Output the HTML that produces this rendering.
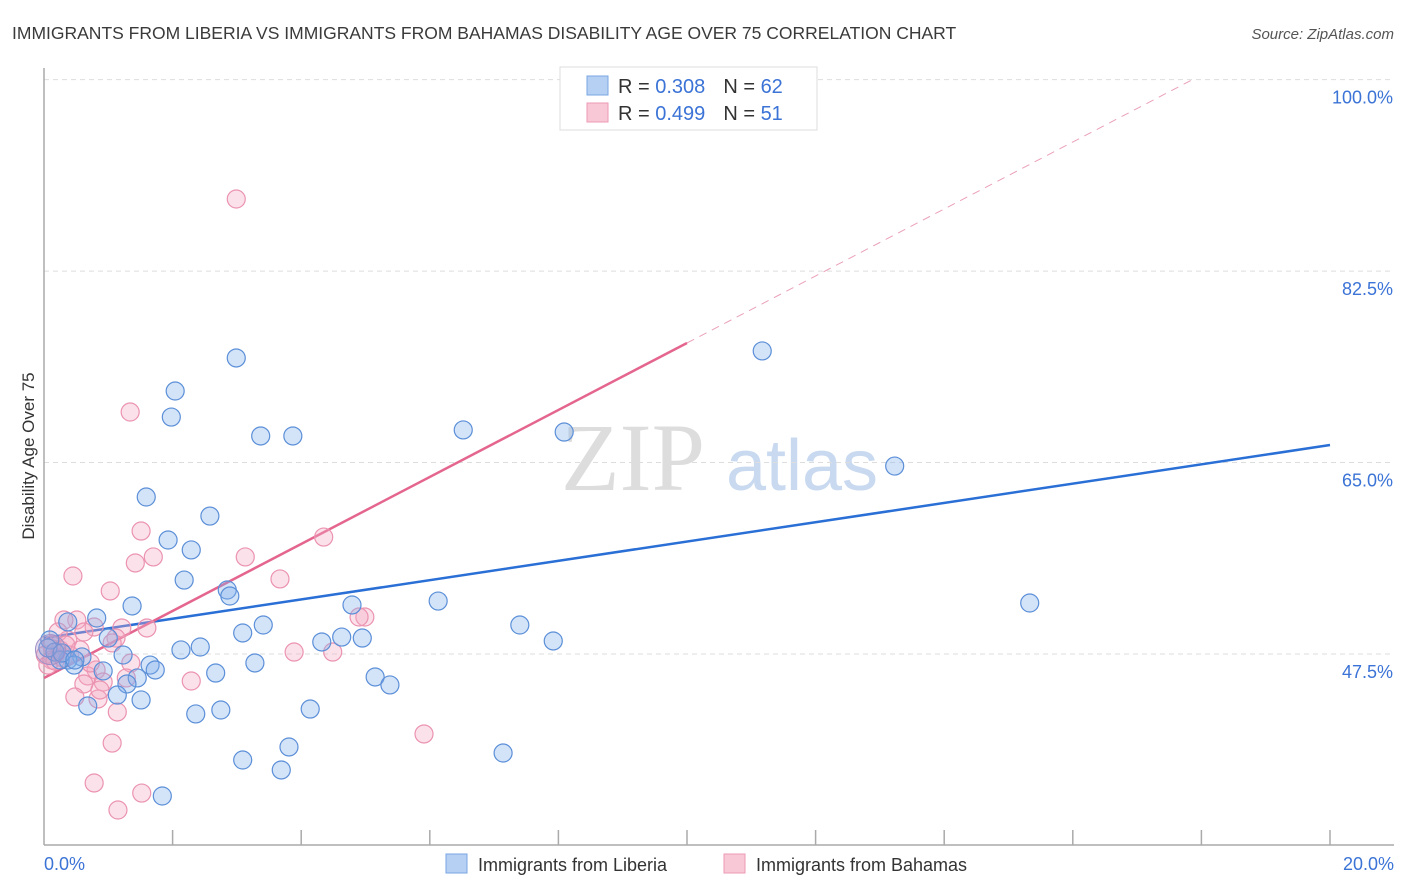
<!DOCTYPE html>
<html><head><meta charset="utf-8"><style>
body{margin:0;background:#fff;font-family:"Liberation Sans",sans-serif;}
#wrap{position:relative;width:1406px;height:892px;overflow:hidden;}
</style></head><body>
<div id="wrap">
<svg id="svg" width="1406" height="892" xmlns="http://www.w3.org/2000/svg">
<text x="12" y="39" font-size="17.5" fill="#3a3a3a">IMMIGRANTS FROM LIBERIA VS IMMIGRANTS FROM BAHAMAS DISABILITY AGE OVER 75 CORRELATION CHART</text>
<text x="1394" y="39" font-size="15" fill="#555" font-style="italic" text-anchor="end">Source: ZipAtlas.com</text>
<text x="0" y="0" transform="translate(34,456) rotate(-90)" font-size="17" fill="#333" text-anchor="middle">Disability Age Over 75</text>
<g>
<text x="633" y="490" font-size="96" font-family="Liberation Serif,serif" fill="#ddd" text-anchor="middle">ZIP</text>
<text x="802" y="490" font-size="72" fill="#c8d9f0" text-anchor="middle">atlas</text>
</g>
<g id="grid"></g><g id="axes"></g><g id="lines"></g><g id="pts"></g>
<g>
<rect x="560" y="67" width="257" height="63" fill="#fff" stroke="#ddd"/>
<rect x="587" y="76" width="21" height="19" fill="#b5d0f3" stroke="#7aa6e3"/>
<rect x="587" y="103" width="21" height="19" fill="#f8c8d6" stroke="#ee9ab4"/>
<text x="618" y="93" font-size="20" fill="#333">R = <tspan fill="#3b73d6">0.308</tspan><tspan dx="18">N = </tspan><tspan fill="#3b73d6">62</tspan></text>
<text x="618" y="120" font-size="20" fill="#333">R = <tspan fill="#3b73d6">0.499</tspan><tspan dx="18">N = </tspan><tspan fill="#3b73d6"> 51</tspan></text>
</g>
<g>
<rect x="446" y="854" width="21" height="19" fill="#b5d0f3" stroke="#7aa6e3"/>
<text x="478" y="871" font-size="18" fill="#333">Immigrants from Liberia</text>
<rect x="724" y="854" width="21" height="19" fill="#f8c8d6" stroke="#ee9ab4"/>
<text x="756" y="871" font-size="18" fill="#333">Immigrants from Bahamas</text>
</g>
</svg>
</div>
<script>
const blueX=[2.99,2.04,1.98,3.37,3.87,6.52,8.09,11.17,13.23,15.33,1.59,2.58,1.93,2.29,2.18,2.85,2.89,1.37,0.82,0.37,4.79,6.13,7.40,7.92,3.41,3.09,4.32,4.63,4.95,2.43,2.13,1.00,1.23,0.59,0.37,0.47,0.92,1.65,1.73,1.45,1.29,1.14,1.51,0.68,2.67,3.28,2.36,2.75,4.14,5.15,5.38,3.09,3.69,3.81,7.14,1.84,0.09,0.17,0.25,0.06,0.28,0.48];
const blueY=[74.56,71.54,69.16,67.43,67.43,67.98,67.79,75.20,64.68,52.16,61.85,60.11,57.92,57.01,54.26,53.35,52.80,51.89,50.79,50.43,51.98,52.34,50.15,48.69,50.15,49.42,48.60,49.05,48.96,48.14,47.87,48.96,47.41,47.23,46.95,46.49,45.95,46.49,46.04,45.31,44.76,43.75,43.30,42.75,45.76,46.68,42.02,42.38,42.47,45.40,44.67,37.81,36.90,39.00,38.45,34.52,48.78,47.68,46.95,48.05,47.59,46.95];
const pinkX=[2.99,1.34,1.51,1.70,1.42,0.45,1.03,3.13,3.67,4.35,4.99,4.90,1.60,1.21,0.51,0.31,0.78,0.62,1.12,0.37,0.22,0.12,0.25,0.02,0.12,0.06,1.06,0.40,1.35,0.81,0.68,0.62,0.92,1.28,2.29,0.48,0.84,1.14,3.89,4.49,1.06,5.91,0.78,1.52,1.15,0.17,0.30,0.56,0.34,0.72,0.87];
const pinkY=[89.09,69.62,58.74,56.37,55.82,54.63,53.26,56.37,54.36,58.19,50.88,50.88,49.88,49.88,50.61,50.61,49.97,49.51,48.96,48.78,49.51,48.32,47.87,47.41,46.95,46.49,48.51,47.41,46.68,46.04,45.49,44.76,44.94,45.31,45.03,43.57,43.39,42.20,47.68,47.68,39.36,40.19,35.71,34.79,33.24,46.86,47.13,47.87,48.32,46.68,44.21];
const blueLine=[48.96,66.60];
const pinkLine=[45.31,3.062];
const yTicks=[47.5,65.0,82.5,100.0];
const xTickLabels=["0.0%","20.0%"];
const NS="http://www.w3.org/2000/svg";
const X=v=>44+v*64.3;
const Y=v=>654-(v-47.5)*10.94;
function mk(tag,attrs,parent){const e=document.createElementNS(NS,tag);for(const k in attrs)e.setAttribute(k,attrs[k]);document.getElementById(parent).appendChild(e);return e;}
yTicks.forEach(t=>{
 const g=mk('line',{x1:44,x2:1394,y1:Y(t),y2:Y(t),stroke:'#ddd','stroke-dasharray':'5,4'},'grid');
 
 
 const tx=mk('text',{x:1393,y:Y(t)+24,'font-size':18,fill:'#3b73d6','text-anchor':'end'},'grid');
 tx.textContent=t.toFixed(1)+'%';
 
 
});
const ax=mk('line',{x1:44,x2:44,y1:68,y2:845,stroke:'#aaa','stroke-width':1.5},'axes');


const bx=mk('line',{x1:44,x2:1394,y1:845,y2:845,stroke:'#aaa','stroke-width':1.5},'axes');


for(let i=1;i<=10;i++){const tk=mk('line',{x1:X(i*2),x2:X(i*2),y1:830,y2:845,stroke:'#aaa','stroke-width':1.5},'axes');
 
 }
const l0=mk('text',{x:44,y:870,'font-size':18,fill:'#3b73d6'},'axes');l0.textContent=xTickLabels[0];


const l1=mk('text',{x:1394,y:870,'font-size':18,fill:'#3b73d6','text-anchor':'end'},'axes');l1.textContent=xTickLabels[1];


function pts(xs,ys,fill,stroke,name){xs.forEach((x,i)=>{const c=mk('circle',{cx:X(x),cy:Y(ys[i]),r:9,fill:fill,stroke:stroke,'stroke-width':1.2},'pts');
 
 });}
pts(pinkX,pinkY,'rgba(244,170,195,0.35)','#eb93b0','point-bahamas');
pts(blueX,blueY,'rgba(130,175,235,0.35)','#5b8fd8','point-liberia');
const big=mk('circle',{cx:X(0.1),cy:Y(47.9),r:15,fill:'rgba(170,150,200,0.35)',stroke:'#a090c8','stroke-width':1},'pts');


const bl=mk('line',{x1:X(0),y1:Y(blueLine[0]),x2:X(20),y2:Y(blueLine[1]),stroke:'#2a6fd6','stroke-width':2.5},'lines');


const pl=mk('line',{x1:X(0),y1:Y(pinkLine[0]),x2:X(10),y2:Y(pinkLine[0]+10*pinkLine[1]),stroke:'#e4668f','stroke-width':2.5},'lines');


const xe=(100-pinkLine[0])/pinkLine[1];
const pd=mk('line',{x1:X(10),y1:Y(pinkLine[0]+10*pinkLine[1]),x2:X(xe),y2:Y(100),stroke:'#eaa0b8','stroke-width':1,'stroke-dasharray':'8,6'},'lines');


</script>
</body></html>
